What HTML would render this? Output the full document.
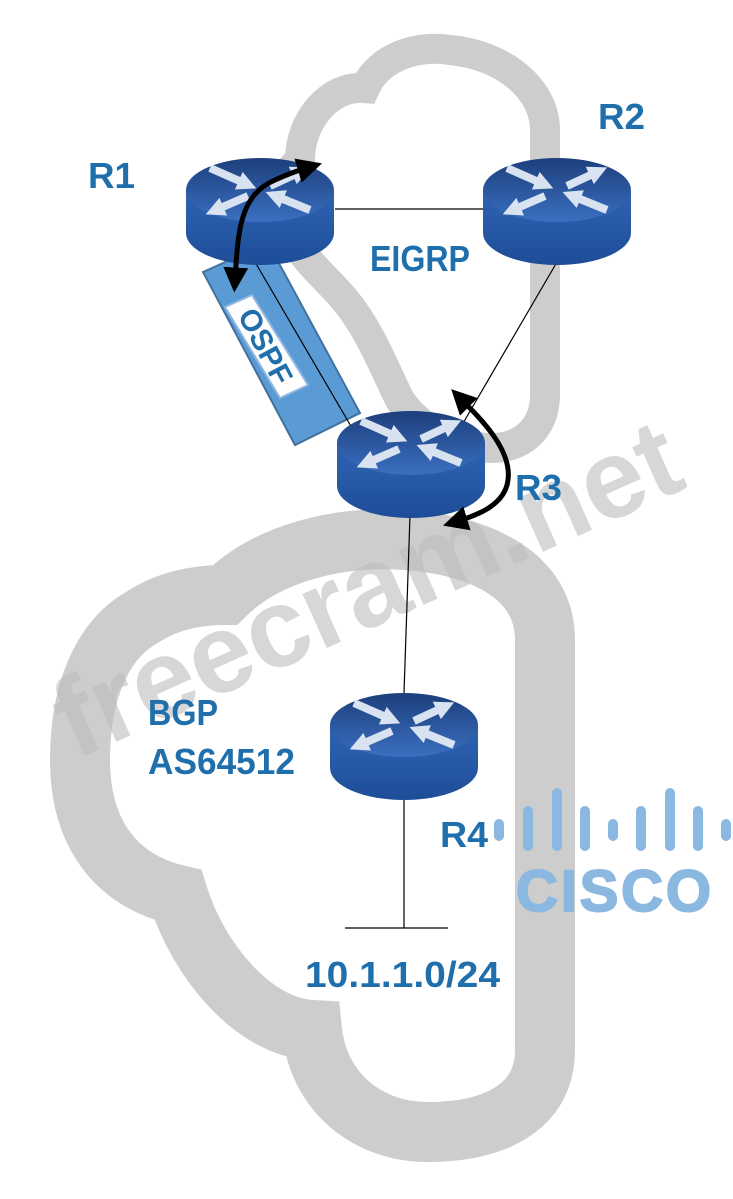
<!DOCTYPE html>
<html><head><meta charset="utf-8"><style>
html,body{margin:0;padding:0;background:#fff;}
svg{display:block;}
text{font-family:"Liberation Sans",sans-serif;font-weight:bold;}
</style></head><body>
<svg width="733" height="1199" viewBox="0 0 733 1199" xmlns="http://www.w3.org/2000/svg">
<defs>
<linearGradient id="tg" x1="0" y1="0" x2="0" y2="1">
<stop offset="0" stop-color="#1d3f7c"/><stop offset="1" stop-color="#3a6fc0"/></linearGradient>
<linearGradient id="bg" x1="0" y1="0" x2="0" y2="1">
<stop offset="0" stop-color="#2f64b3"/><stop offset="1" stop-color="#1e4d98"/></linearGradient>
<marker id="ah" viewBox="0 0 10 10" refX="5" refY="5" markerWidth="5" markerHeight="5" orient="auto-start-reverse">
<path d="M0,0 L10,5 L0,10 z" fill="#000"/></marker>
<marker id="wh" viewBox="0 0 10 10" refX="3" refY="5" markerWidth="2.4" markerHeight="2.6" orient="auto">
<path d="M0,0 L10,5 L0,10 z" fill="#d8e2f0"/></marker>
<g id="rt">
<path d="M-74,0 L-74,43 A74,32 0 0 0 74,43 L74,0 z" fill="url(#bg)"/>
<ellipse cx="0" cy="0" rx="74" ry="32" fill="url(#tg)"/>
<g stroke="#d8e2f0" stroke-width="8" marker-end="url(#wh)">
<line x1="-50" y1="-22" x2="-16" y2="-7"/>
<line x1="10" y1="-4" x2="38" y2="-17"/>
<line x1="-12" y1="6" x2="-42" y2="19"/>
<line x1="50" y1="20" x2="18" y2="7"/>
</g>
</g>
</defs>

<!-- top cloud -->
<path d="M300,160 C300,120 330,85 365,88 C380,55 420,45 450,50 C505,55 545,90 545,130 L545,395 C545,430 520,448 492,448 C460,448 420,430 400,400 C385,370 370,330 345,300 C325,275 282,245 282,200 C282,180 290,168 300,160 Z" fill="none" stroke="#cdcdcd" stroke-width="30"/>
<!-- bottom cloud -->
<path d="M225,595 C265,555 335,535 405,540 C480,545 545,575 545,640 L545,1050 C545,1110 490,1132 428,1132 C365,1132 318,1090 312,1030 C253,1027 198,960 178,895 C113,880 80,830 80,760 C80,690 103,640 141,618 C168,600 198,595 225,595 Z" fill="none" stroke="#cdcdcd" stroke-width="60"/>

<!-- watermark -->
<text x="0" y="0" font-size="112" fill="#bdbdbd" fill-opacity="0.6" transform="translate(75,760) rotate(-24)">freecram.net</text>

<!-- lines -->
<g stroke="#000" stroke-width="1.2">
<line x1="335" y1="209" x2="483" y2="209"/>
<line x1="557" y1="262" x2="455" y2="437"/>
<line x1="410" y1="515" x2="404" y2="693"/>
<line x1="404" y1="800" x2="404" y2="928"/>
<line x1="345" y1="928" x2="448" y2="928"/>
</g>

<!-- OSPF box -->
<polygon points="203,272 268,243 360,413 295,445" fill="#5b9bd5" stroke="#41719c" stroke-width="2"/>
<polygon points="225,307 252,295 308,385 280,398" fill="#fff" stroke="#8fb7e0" stroke-width="2"/>
<text x="0" y="0" font-size="30" fill="#1f6fad" text-anchor="middle" transform="translate(266,346) rotate(62)" dy="11">OSPF</text>
<line x1="255" y1="262" x2="352" y2="428" stroke="#000" stroke-width="1.2"/>

<!-- routers -->
<use href="#rt" x="260" y="190"/>
<use href="#rt" x="557" y="190"/>
<use href="#rt" x="411" y="443"/>
<use href="#rt" x="404" y="725"/>

<!-- curved arrows -->
<path d="M235,280 C238,230 240,195 275,180 C290,173 300,170 310,167" fill="none" stroke="#000" stroke-width="5" marker-start="url(#ah)" marker-end="url(#ah)"/>
<path d="M460,398 C482,420 512,450 508,480 C505,505 478,515 455,522" fill="none" stroke="#000" stroke-width="5" marker-start="url(#ah)" marker-end="url(#ah)"/>

<!-- labels -->
<g fill="#1f6fad" font-size="36">
<text x="88" y="188" textLength="47" lengthAdjust="spacingAndGlyphs">R1</text>
<text x="598" y="129" textLength="47" lengthAdjust="spacingAndGlyphs">R2</text>
<text x="370" y="271" textLength="100" lengthAdjust="spacingAndGlyphs">EIGRP</text>
<text x="515" y="500" textLength="47" lengthAdjust="spacingAndGlyphs">R3</text>
<text x="148" y="725" textLength="70" lengthAdjust="spacingAndGlyphs">BGP</text>
<text x="148" y="774" textLength="147" lengthAdjust="spacingAndGlyphs">AS64512</text>
<text x="440" y="847" textLength="48" lengthAdjust="spacingAndGlyphs">R4</text>
<text x="305" y="987" textLength="195" lengthAdjust="spacingAndGlyphs">10.1.1.0/24</text>
</g>

<!-- cisco logo -->
<g stroke="#8ab8e0" stroke-width="10" stroke-linecap="round">
<line x1="499" y1="824" x2="499" y2="836"/>
<line x1="528" y1="811" x2="528" y2="846"/>
<line x1="557" y1="793" x2="557" y2="846"/>
<line x1="585" y1="811" x2="585" y2="846"/>
<line x1="613" y1="824" x2="613" y2="836"/>
<line x1="641" y1="811" x2="641" y2="846"/>
<line x1="670" y1="793" x2="670" y2="846"/>
<line x1="698" y1="811" x2="698" y2="846"/>
<line x1="726" y1="824" x2="726" y2="836"/>
</g>
<text x="516" y="911" font-size="58" fill="#8ab8e0" stroke="#8ab8e0" stroke-width="2" textLength="195" lengthAdjust="spacing">CISCO</text>
</svg>
</body></html>
